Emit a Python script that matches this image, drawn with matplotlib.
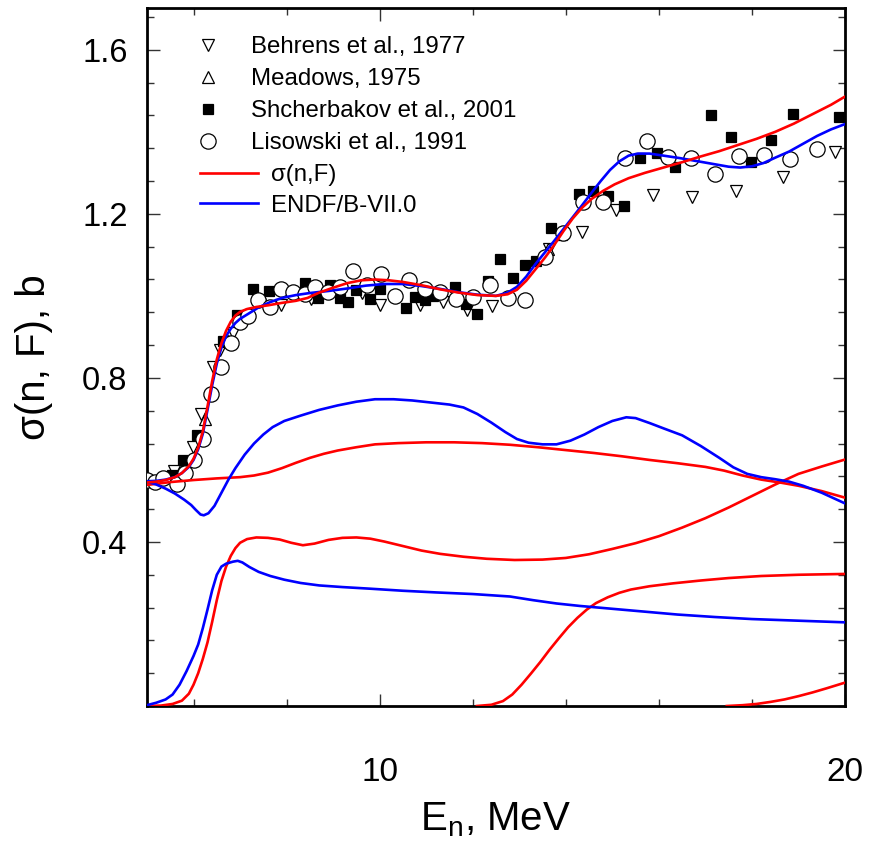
import matplotlib
matplotlib.use("Agg")
import matplotlib.pyplot as plt
from matplotlib.lines import Line2D
from matplotlib.ticker import MultipleLocator

plt.rcParams['font.family'] = ['Liberation Sans', 'DejaVu Sans']
plt.rcParams['mathtext.fontset'] = 'custom'
plt.rcParams['mathtext.rm'] = 'Liberation Sans'

# ---------------- data ----------------
behrens_x = [5.57, 5.98, 6.17, 6.41, 6.57, 6.85, 7.89, 8.53, 9.61, 10.0, 10.86, 11.36, 11.87, 12.42,
             13.64, 14.34, 15.08, 15.87, 16.72, 17.65, 18.67, 19.78]
behrens_y = [0.573, 0.632, 0.713, 0.826, 0.868, 0.909, 0.978, 0.992, 1.006, 0.978, 0.978, 0.986, 0.966, 0.976,
             1.114, 1.157, 1.210, 1.245, 1.240, 1.256, 1.289, 1.351]

meadows_x = [5.75, 6.25, 6.75, 7.5, 13.62, 13.9]
meadows_y = [0.575, 0.70, 0.89, 0.99, 1.115, 1.15]

shch_x = [5.53, 5.78, 6.07, 6.63, 6.93, 7.28, 7.63, 8.39, 8.68, 8.93, 9.15, 9.33, 9.5, 9.79, 10.0,
          10.56, 10.76, 10.97, 11.15, 11.62, 11.85, 12.09, 12.33, 12.58, 12.86, 13.12, 13.37, 13.69,
          14.29, 14.59, 14.91, 15.26, 15.59, 15.97, 16.34, 17.13, 17.55, 17.98, 18.42, 18.89, 19.87]
shch_y = [0.563, 0.600, 0.661, 0.889, 0.954, 1.016, 1.011, 1.031, 0.994, 1.027, 0.995, 0.984, 1.015, 0.992, 1.018,
          0.970, 0.997, 0.990, 1.000, 1.021, 0.980, 0.956, 1.036, 1.089, 1.043, 1.076, 1.085, 1.166,
          1.249, 1.255, 1.243, 1.220, 1.337, 1.349, 1.314, 1.440, 1.387, 1.327, 1.379, 1.444, 1.435]

lis_x = [5.0, 5.17, 5.34, 5.64, 5.82, 6.0, 6.21, 6.37, 6.60, 6.80, 7.0, 7.18, 7.39, 7.64, 7.89, 8.13,
         8.4, 8.61, 8.90, 9.15, 9.43, 9.72, 10.02, 10.33, 10.64, 10.97, 11.29, 11.64, 12.0, 12.37,
         12.76, 13.12, 13.55, 13.94, 14.36, 14.8, 15.27, 15.74, 16.2, 16.7, 17.2, 17.73, 18.26, 18.81, 19.39]
lis_y = [0.552, 0.546, 0.557, 0.542, 0.568, 0.599, 0.652, 0.760, 0.826, 0.884, 0.937, 0.950, 0.989, 0.974,
         1.016, 1.010, 1.005, 1.021, 1.010, 1.021, 1.060, 1.027, 1.054, 1.000, 1.039, 1.016, 1.010, 0.992,
         0.997, 1.027, 0.994, 0.990, 1.094, 1.154, 1.230, 1.230, 1.337, 1.378, 1.338, 1.336, 1.298, 1.341,
         1.343, 1.334, 1.358]

# sigma(n,F) model - total
red_tot_x = [5.0, 5.2, 5.4, 5.6, 5.75, 5.9, 6.0, 6.1, 6.2, 6.3, 6.4, 6.5, 6.6, 6.7, 6.8, 6.9, 7.0, 7.15,
             7.35, 7.6, 7.9, 8.2, 8.45, 8.7, 9.0, 9.3, 9.6, 9.9, 10.2, 10.5, 10.9, 11.3, 11.7, 12.1, 12.5,
             12.75, 12.95, 13.15, 13.35, 13.55, 13.75, 13.95, 14.15, 14.35, 14.55, 14.8, 15.05, 15.35,
             15.7, 16.1, 16.5, 16.9, 17.3, 17.7, 18.1, 18.5, 18.9, 19.3, 19.7, 20.0]
red_tot_y = [0.545, 0.547, 0.551, 0.558, 0.568, 0.585, 0.603, 0.630, 0.670, 0.730, 0.792, 0.845, 0.885,
             0.915, 0.937, 0.952, 0.961, 0.968, 0.973, 0.977, 0.983, 0.988, 0.995, 1.008, 1.020, 1.031,
             1.038, 1.040, 1.038, 1.034, 1.026, 1.016, 1.008, 1.002, 1.000, 1.004, 1.015, 1.037, 1.065,
             1.093, 1.124, 1.158, 1.189, 1.215, 1.236, 1.256, 1.272, 1.287, 1.300, 1.313, 1.326, 1.340,
             1.353, 1.368, 1.383, 1.400, 1.420, 1.443, 1.466, 1.486]
# first chance
red_1_x = [5.0, 5.5, 6.0, 6.5, 7.0, 7.3, 7.6, 7.9, 8.2, 8.5, 8.8, 9.1, 9.5, 9.9, 10.4, 11.0, 11.6, 12.2,
           12.8, 13.4, 14.0, 14.6, 15.2, 15.8, 16.4, 17.0, 17.4, 17.8, 18.2, 18.6, 19.0, 19.5, 20.0]
red_1_y = [0.539, 0.546, 0.551, 0.555, 0.558, 0.562, 0.569, 0.580, 0.593, 0.605, 0.615, 0.623, 0.631,
           0.638, 0.641, 0.643, 0.643, 0.641, 0.637, 0.631, 0.624, 0.617, 0.609, 0.600, 0.592, 0.583,
           0.574, 0.562, 0.552, 0.545, 0.537, 0.524, 0.508]
# second chance
red_2_x = [5.0, 5.3, 5.55, 5.75, 5.9, 6.0, 6.1, 6.2, 6.3, 6.4, 6.5, 6.6, 6.7, 6.8, 6.9, 7.0, 7.15, 7.35,
           7.6, 7.85, 8.1, 8.35, 8.6, 8.9, 9.2, 9.5, 9.8, 10.1, 10.5, 10.9, 11.3, 11.8, 12.3, 12.9, 13.5,
           14.0, 14.5, 15.0, 15.5, 16.0, 16.5, 17.0, 17.5, 18.0, 18.5, 19.0, 19.5, 20.0]
red_2_y = [0.0, 0.001, 0.005, 0.013, 0.030, 0.052, 0.080, 0.115, 0.155, 0.205, 0.258, 0.305, 0.340,
           0.366, 0.385, 0.398, 0.407, 0.411, 0.410, 0.406, 0.398, 0.392, 0.396, 0.405, 0.410, 0.411,
           0.408, 0.401, 0.390, 0.379, 0.371, 0.364, 0.359, 0.356, 0.357, 0.361, 0.370, 0.383, 0.397,
           0.414, 0.435, 0.458, 0.484, 0.512, 0.540, 0.566, 0.584, 0.601]
# third chance
red_3_x = [12.09, 12.4, 12.65, 12.85, 13.05, 13.25, 13.45, 13.65, 13.85, 14.05, 14.25, 14.45, 14.65,
           14.9, 15.15, 15.4, 15.8, 16.3, 16.9, 17.5, 18.2, 19.0, 20.0]
red_3_y = [0.0, 0.003, 0.012, 0.028, 0.052, 0.079, 0.107, 0.137, 0.165, 0.192, 0.215, 0.235, 0.251,
           0.265, 0.276, 0.284, 0.292, 0.299, 0.306, 0.312, 0.317, 0.320, 0.322]
# fourth chance
red_4_x = [17.46, 17.8, 18.1, 18.4, 18.7, 19.0, 19.3, 19.6, 20.0]
red_4_y = [0.0, 0.002, 0.005, 0.010, 0.016, 0.024, 0.033, 0.043, 0.057]

# ENDF/B-VII.0
blue_tot_x = [5.0, 5.2, 5.4, 5.6, 5.75, 5.9, 6.0, 6.1, 6.2, 6.3, 6.4, 6.5, 6.6, 6.7, 6.8, 6.9, 7.0, 7.2,
              7.4, 7.65, 7.9, 8.2, 8.5, 8.9, 9.3, 9.7, 10.1, 10.5, 10.9, 11.3, 11.7, 12.1, 12.5, 12.75,
              12.95, 13.15, 13.35, 13.55, 13.75, 13.95, 14.15, 14.35, 14.55, 14.75, 14.95, 15.15, 15.35,
              15.55, 15.8, 16.1, 16.45, 16.8, 17.2, 17.5, 17.75, 18.0, 18.25, 18.5, 18.8, 19.1, 19.4,
              19.7, 20.0]
blue_tot_y = [0.548, 0.549, 0.552, 0.558, 0.568, 0.583, 0.600, 0.626, 0.664, 0.722, 0.782, 0.835, 0.874,
              0.902, 0.920, 0.934, 0.944, 0.958, 0.972, 0.985, 0.995, 1.002, 1.007, 1.012, 1.018, 1.025,
              1.029, 1.029, 1.024, 1.017, 1.009, 1.003, 1.000, 1.008, 1.022, 1.047, 1.078, 1.106, 1.134,
              1.163, 1.192, 1.221, 1.251, 1.280, 1.307, 1.328, 1.342, 1.347, 1.347, 1.342, 1.336, 1.329,
              1.321, 1.315, 1.313, 1.316, 1.324, 1.337, 1.352, 1.371, 1.390, 1.406, 1.419]
blue_1_x = [5.0, 5.2, 5.4, 5.6, 5.8, 5.95, 6.05, 6.15, 6.22, 6.32, 6.45, 6.6, 6.75, 6.9, 7.1, 7.3, 7.5,
            7.7, 7.95, 8.3, 8.7, 9.1, 9.5, 9.9, 10.3, 10.7, 11.1, 11.5, 11.8, 12.1, 12.4, 12.7, 12.95,
            13.2, 13.5, 13.8, 14.1, 14.4, 14.7, 15.0, 15.3, 15.5, 15.8, 16.1, 16.5, 16.9, 17.3, 17.6,
            17.9, 18.2, 18.5, 18.8, 19.1, 19.5, 20.0]
blue_1_y = [0.547, 0.540, 0.530, 0.518, 0.503, 0.490, 0.478, 0.467, 0.465, 0.470, 0.488, 0.520, 0.552,
            0.580, 0.613, 0.640, 0.662, 0.680, 0.695, 0.708, 0.722, 0.733, 0.742, 0.748, 0.748, 0.745,
            0.740, 0.735, 0.728, 0.712, 0.691, 0.668, 0.651, 0.642, 0.638, 0.638, 0.647, 0.662, 0.680,
            0.695, 0.704, 0.702, 0.690, 0.677, 0.660, 0.634, 0.605, 0.582, 0.566, 0.558, 0.553, 0.547,
            0.537, 0.520, 0.494]
blue_2_x = [5.0, 5.2, 5.4, 5.55, 5.7, 5.85, 6.0, 6.1, 6.2, 6.3, 6.4, 6.5, 6.6, 6.7, 6.85, 6.95, 7.05,
            7.2, 7.4, 7.65, 7.95, 8.3, 8.7, 9.2, 9.8, 10.5, 11.2, 12.0, 12.8, 13.3, 13.8, 14.3, 15.0,
            15.7, 16.4, 17.2, 18.0, 19.0, 20.0]
blue_2_y = [0.002, 0.008, 0.016, 0.028, 0.052, 0.085, 0.122, 0.150, 0.190, 0.235, 0.282, 0.320, 0.340,
            0.347, 0.352, 0.354, 0.350, 0.339, 0.327, 0.317, 0.308, 0.300, 0.294, 0.290, 0.286, 0.281,
            0.277, 0.273, 0.267, 0.258, 0.250, 0.244, 0.237, 0.230, 0.223, 0.217, 0.212, 0.208, 0.204]

# ---------------- figure ----------------
fig = plt.figure(figsize=(8.71, 8.46), dpi=100)
ax = fig.add_axes([147/871, 1-706/846, (845-147)/871, (706-8)/846])

mk = dict(linestyle='none', markeredgecolor='black', markeredgewidth=0.9)
ax.plot(behrens_x, behrens_y, marker='v', markersize=8.5, markerfacecolor='white', zorder=3, **mk)
ax.plot(meadows_x, meadows_y, marker='^', markersize=8.5, markerfacecolor='white', zorder=3, **mk)
ax.plot(shch_x, shch_y, marker='s', markersize=7.5, markerfacecolor='black', zorder=3, **mk)
ax.plot(lis_x, lis_y, marker='o', markersize=11, markerfacecolor='white', zorder=3, **mk)

lw = 1.9
for xs, ys in [(red_1_x, red_1_y), (red_2_x, red_2_y), (red_3_x, red_3_y), (red_4_x, red_4_y)]:
    ax.plot(xs, ys, color='#ff0000', lw=lw, zorder=4)
for xs, ys in [(blue_1_x, blue_1_y), (blue_2_x, blue_2_y)]:
    ax.plot(xs, ys, color='#0000ff', lw=lw, zorder=4)
ax.plot(blue_tot_x, blue_tot_y, color='#0000ff', lw=lw, zorder=5)
ax.plot(red_tot_x, red_tot_y, color='#ff0000', lw=lw, zorder=5)

ax.set_xlim(5, 20)
ax.set_ylim(0, 1.702)
ax.set_xticks([10, 20])
ax.xaxis.set_minor_locator(MultipleLocator(2))
ax.set_yticks([0.4, 0.8, 1.2, 1.6])
ax.yaxis.set_minor_locator(MultipleLocator(0.08))
ax.tick_params(which='both', direction='in', top=True, right=True, width=1.0, color='#333333')
ax.tick_params(which='major', length=9)
ax.tick_params(which='minor', length=5)
ax.tick_params(axis='y', which='major', labelsize=23.5, pad=14)
ax.tick_params(axis='x', which='major', labelsize=24, pad=37)
for s in ax.spines.values():
    s.set_linewidth(2.0)

fig.text(495/871, 1-820/846, r'E$_\mathregular{n}$, MeV', fontsize=29, ha='center', va='center')
fig.text(34/871, 1-357/846, 'σ(n, F), b', fontsize=29, rotation=90, ha='center', va='center')

# legends
h1 = [Line2D([], [], marker='v', markersize=8.5, markerfacecolor='white', **mk),
      Line2D([], [], marker='^', markersize=8.5, markerfacecolor='white', **mk),
      Line2D([], [], marker='s', markersize=7.5, markerfacecolor='black', **mk),
      Line2D([], [], marker='o', markersize=11, markerfacecolor='white', **mk)]
l1 = ['Behrens et al., 1977', 'Meadows, 1975', 'Shcherbakov et al., 2001', 'Lisowski et al., 1991']
leg1 = fig.legend(h1, l1, loc='upper left', bbox_to_anchor=(184/871, 1-36/846), frameon=False,
                  fontsize=17.3, handlelength=2.0, handletextpad=0.8, labelspacing=0.42,
                  borderpad=0, borderaxespad=0)
h2 = [Line2D([], [], color='#ff0000', lw=lw), Line2D([], [], color='#0000ff', lw=lw)]
l2 = ['σ(n,F)', 'ENDF/B-VII.0']
leg2 = fig.legend(h2, l2, loc='upper left', bbox_to_anchor=(200/871, 1-164/846), frameon=False,
                  fontsize=17.3, handlelength=2.4, handletextpad=0.55, labelspacing=0.36,
                  borderpad=0, borderaxespad=0)

fig.savefig('out.png', dpi=100)
